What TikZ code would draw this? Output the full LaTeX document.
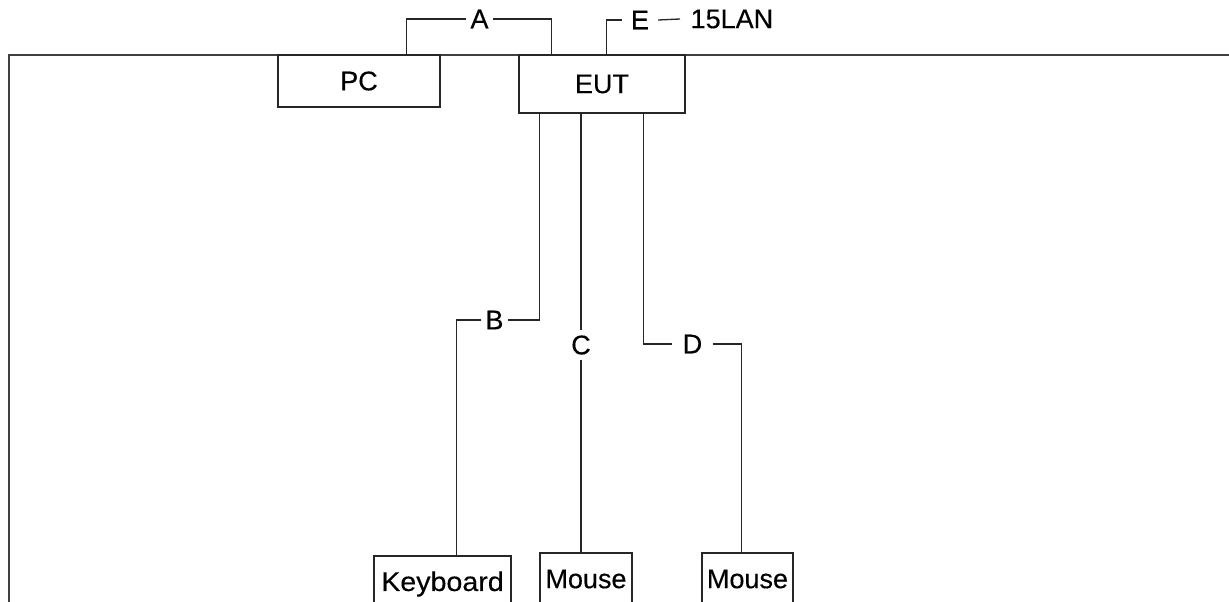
\documentclass[tikz,border=0pt]{standalone}
\usepackage{fontspec}
\newfontfamily\diagfont{Liberation Sans}[FakeBold=0.3]
\usetikzlibrary{calc}
\begin{document}
\begin{tikzpicture}[x=1pt,y=-1pt,
  line width=1.3pt,
  every node/.style={font=\diagfont\fontsize{27}{30}\selectfont},
  box/.style={draw, black!85, text=black, inner sep=0pt},
  lab/.style={inner ysep=2pt},
  wire/.style={draw, black!85},
  frame/.style={draw, black!75, line width=2pt}]
\useasboundingbox (0,0) rectangle (1229,602);
\clip (0,0) rectangle (1229,602);
% frame
\draw[frame] (1229,55) -- (9,55) -- (9,603);
% boxes
\node[box, minimum width=162pt, minimum height=52pt] (PC) at (359,81) {PC};
\node[box, minimum width=166pt, minimum height=58pt] (EUT) at (602,84) {EUT};
\node[box, minimum width=137pt, minimum height=56pt] (KB) at (442.5,584) {\scalebox{1.06}[1]{Keyboard}};
\node[box, minimum width=92pt, minimum height=52pt] (M1) at (586,579) {Mouse};
\node[box, minimum width=91pt, minimum height=52pt] (M2) at (747.5,579) {Mouse};
% labels
\node[lab, inner xsep=4pt] (A) at (479.5,19) {A};
\node[lab, inner xsep=8.5pt] (E) at (640,20) {E};
\node[lab, inner xsep=10pt, anchor=west] (LAN) at (680,19) {15LAN};
\node[lab, inner xsep=3.5pt] (B) at (494.5,320) {B};
\node[inner xsep=2pt, inner ysep=5pt] (C) at (581,345) {C};
\node[lab, inner xsep=10pt] (D) at (692.5,344) {D};
% connectors
\draw[wire] ($(PC.north west)+(129,0)$) |- (A.west);
\draw[wire] (A.east) -| ($(EUT.north west)+(33,0)$);
\draw[wire] ($(EUT.north west)+(88,0)$) |- (E.west);
\draw[wire] (E.east) -- (LAN.west);
\draw[wire] ($(EUT.south west)+(21,0)$) |- (B.east);
\draw[wire] (B.west) -| ($(KB.north west)+(83,0)$);
\draw[wire] (EUT.south -| C.north) -- (C.north);
\draw[wire] (C.south) -- (C.south |- M1.north);
\draw[wire] ($(EUT.south west)+(125,0)$) |- (D.west);
\draw[wire] (D.east) -| ($(M2.north west)+(40,0)$);
\end{tikzpicture}
\end{document}
